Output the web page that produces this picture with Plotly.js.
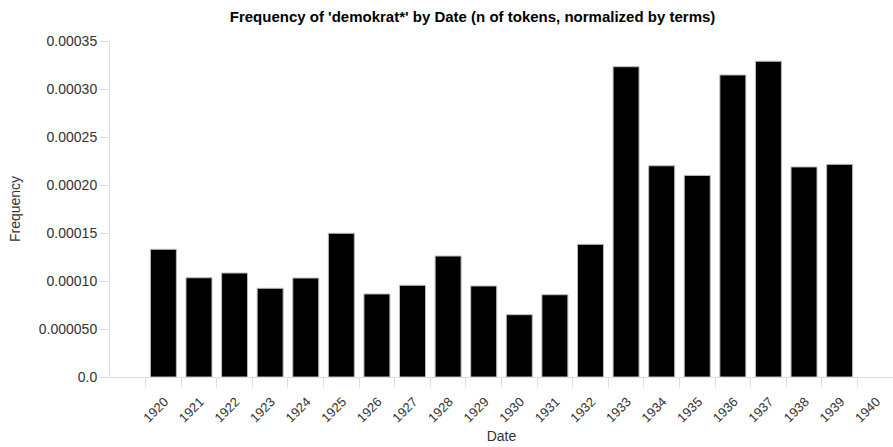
<!DOCTYPE html>
<html>
<head>
<meta charset="utf-8">
<script src="https://cdn.plot.ly/plotly-3.0.1.min.js"></script>
<style>html,body{margin:0;padding:0;background:#fff;}#chart{width:893px;height:447px;}</style>
</head>
<body>
<div id="chart"></div>
<script>
var years = [1920,1921,1922,1923,1924,1925,1926,1927,1928,1929,1930,1931,1932,1933,1934,1935,1936,1937,1938,1939];
var frequency = [0.000133,0.0001034,0.0001083,0.0000924,0.0001031,0.0001497,0.0000865,0.0000955,0.000126,0.0000948,0.0000649,0.0000857,0.0001382,0.0003232,0.00022,0.00021,0.0003146,0.0003289,0.0002188,0.0002215];
var xTickVals = [1920,1921,1922,1923,1924,1925,1926,1927,1928,1929,1930,1931,1932,1933,1934,1935,1936,1937,1938,1939,1940];
var xTickText = ['1920','1921','1922','1923','1924','1925','1926','1927','1928','1929','1930','1931','1932','1933','1934','1935','1936','1937','1938','1939','1940'];
var yTickVals = [0,0.00005,0.0001,0.00015,0.0002,0.00025,0.0003,0.00035];
var yTickText = ['0.0','0.000050','0.00010','0.00015','0.00020','0.00025','0.00030','0.00035'];

var barX = years.map(function(y){ return y + 0.5; });

var trace = {
  type: 'bar',
  x: barX,
  y: frequency,
  width: 0.73,
  marker: {color: '#000000', line: {color: '#bbbbbb', width: 1}},
  hoverinfo: 'x+y'
};

var font = 'Liberation Sans, Arial, sans-serif';
var layout = {
  width: 893, height: 447,
  margin: {l: 110, r: 0, t: 41, b: 70, pad: 0},
  paper_bgcolor: '#ffffff', plot_bgcolor: '#ffffff',
  font: {family: font, size: 14, color: '#333333'},
  showlegend: false,
  title: {text: "Frequency of 'demokrat*' by Date (n of tokens, normalized by terms)",
          font: {family: font, size: 15, color: '#000000', weight: 'bold'},
          x: 0.463, xanchor: 'center', xref: 'paper', y: 0.963, yanchor: 'middle', yref: 'container'},
  xaxis: {
    range: [1919, 1941], tickmode: 'array', tickvals: xTickVals, ticktext: xTickText,
    tickangle: -45, ticks: 'outside', ticklen: 9, tickcolor: '#dddddd', tickwidth: 1,
    showline: true, linecolor: '#dddddd', linewidth: 1, showgrid: false, zeroline: false,
    tickfont: {family: font, size: 13, color: '#333333'},
    ticklabelshift: 19,
    ticklabelstandoff: 2,
    title: {text: 'Date', font: {family: font, size: 14, color: '#333333'}, standoff: 6},
    fixedrange: true
  },
  yaxis: {
    range: [0, 0.00035], tickmode: 'array', tickvals: yTickVals, ticktext: yTickText,
    ticks: 'outside', ticklen: 9, tickcolor: '#dddddd', tickwidth: 1,
    showline: true, linecolor: '#dddddd', linewidth: 1, showgrid: false, zeroline: false,
    tickfont: {family: font, size: 14, color: '#333333'},
    title: {text: 'Frequency', font: {family: font, size: 14, color: '#333333'}, standoff: 14},
    fixedrange: true
  },
  bargap: 0
};

Plotly.newPlot('chart', [trace], layout, {displayModeBar: false, staticPlot: true});
</script>
</body>
</html>
